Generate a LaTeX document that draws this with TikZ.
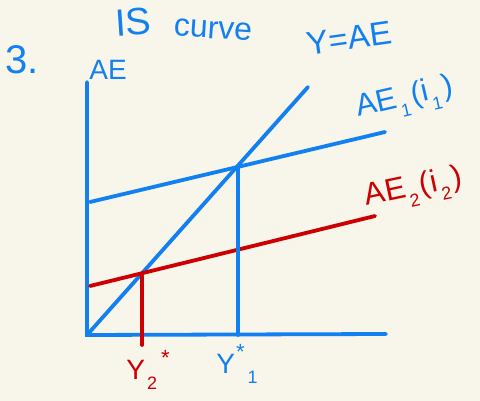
\documentclass[tikz,border=0pt]{standalone}
\usepackage{fontspec}
\setmainfont{Liberation Sans}
\definecolor{bg}{RGB}{248,245,234}
\definecolor{penblue}{RGB}{18,128,240}
\definecolor{penred}{RGB}{204,0,0}
\newcommand{\lsub}[1]{\hspace{2pt}\raisebox{-0.35em}{\fontsize{18}{18}\selectfont #1}\hspace{3pt}}
\newcommand{\lsup}[1]{\hspace{1pt}\raisebox{0.5em}{\fontsize{22}{22}\selectfont #1}\hspace{1pt}}
\begin{document}
\begin{tikzpicture}[x=1pt,y=-1pt,
  bline/.style={penblue,line width=3.8pt,line cap=round},
  rline/.style={penred,line width=3.8pt,line cap=round},
  btext/.style={text=penblue,inner sep=0pt},
  rtext/.style={text=penred,inner sep=0pt}]
\fill[bg] (0,0) rectangle (480,401);
\useasboundingbox (0,0) rectangle (480,401);
% key points
\coordinate (O) at (87,335);
\coordinate (Ytop) at (87,82);
\coordinate (Xend) at (386,334);
\coordinate (D) at (308,87);
\coordinate (A1s) at (90,202);
\coordinate (A1e) at (385,132);
\coordinate (A2s) at (90,286);
\coordinate (A2e) at (375,216);
\coordinate (P1) at (intersection of O--D and A1s--A1e);
\coordinate (P2) at (intersection of O--D and A2s--A2e);
\coordinate (P1b) at (P1 |- O);
\coordinate (P2b) at ([yshift=-10pt]P2 |- O);
% axes and lines
\draw[bline] (Ytop) -- (O) -- (Xend);
\draw[bline] (O) -- (D);
\draw[bline] (A1s) -- (A1e);
\draw[rline] (A2s) -- (A2e);
\draw[bline] ([xshift=1.5pt]P1) -- ([xshift=1.5pt]P1b);
\draw[rline] (P2) -- (P2b);
% labels
\node[btext,font=\fontsize{40}{40}\selectfont] (n3) at (22,60) {3.};
\node[btext,font=\fontsize{28}{28}\selectfont] (lae) at (108,70) {AE};
\node[btext,font=\fontsize{38}{38}\selectfont,rotate=4] (lis) at (133,22) {IS};
\node[btext,font=\fontsize{32}{32}\selectfont,rotate=-4] (lcurve) at (213,30) {curve};
\node[btext,font=\fontsize{33}{33}\selectfont,rotate=8] (lyae) at (349,38) {Y=AE};
\node[btext,font=\fontsize{31}{31}\selectfont,rotate=13] (lae1) at (405,100) {AE\lsub{1}(i\lsub{1})};
\node[rtext,font=\fontsize{31}{31}\selectfont,rotate=12] (lae2) at (414,190) {AE\lsub{2}(i\lsub{2})};
\node[rtext,font=\fontsize{28}{28}\selectfont] (ly2) at (148,370) {Y\lsub{2}\lsup{*}};
\node[btext,font=\fontsize{28}{28}\selectfont] (ly1) at (237,364) {Y\lsup{*}\lsub{1}};
\end{tikzpicture}
\end{document}
